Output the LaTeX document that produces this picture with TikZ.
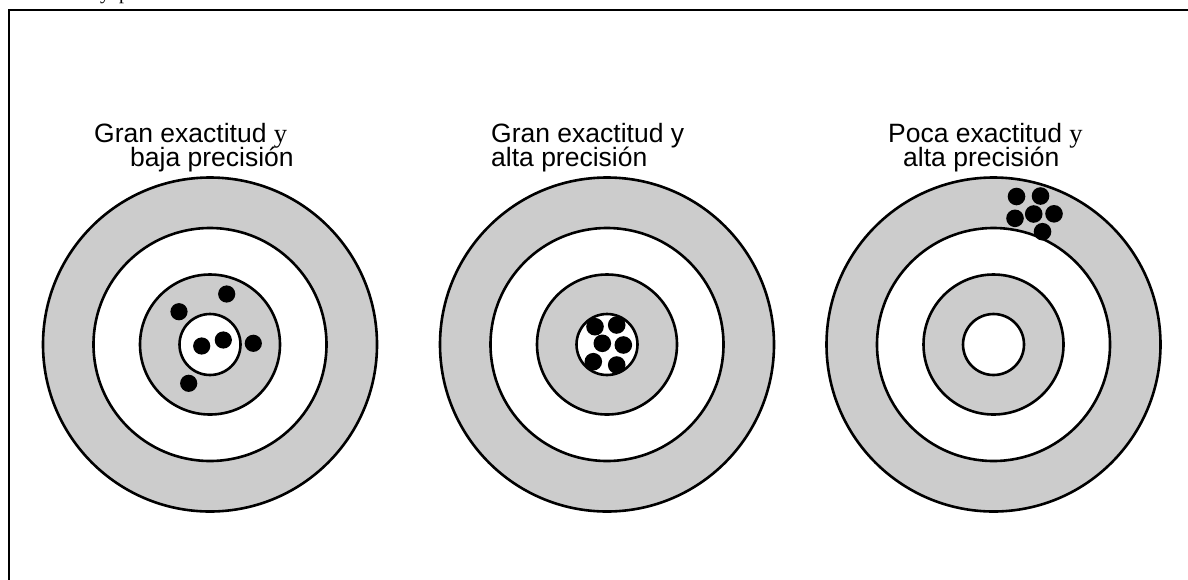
\documentclass[tikz,border=0pt]{standalone}
\usepackage{fontspec}
\setmainfont{Liberation Sans}
\newfontfamily\seriffam{Liberation Serif}
\definecolor{ringgray}{RGB}{204,204,204}
\begin{document}
\begin{tikzpicture}[x=1pt,y=-1pt,
  ring/.style={line width=2.6pt},
  shot/.style={fill=black},
  title/.style={anchor=base west, inner sep=0pt, font=\fontsize{26.5}{30}\selectfont}]
\useasboundingbox (0,0) rectangle (1188,579);
\clip (0,0) rectangle (1188,579);
% frame
\coordinate (fbl) at (9,580);
\coordinate (ftl) at (9,10);
\coordinate (ftr) at (1190,10);
\draw[line width=2.2pt] (fbl) -- (ftl) -- (ftr);
% cut text at the top
\node[anchor=base west, inner sep=0pt, font=\seriffam\fontsize{20}{22}\selectfont] (cut) at (100,-1) {y\hspace{9pt}p};
% targets
\foreach \cx/\nm in {210/a, 607/b, 993.5/c}{
  \filldraw[ring, fill=ringgray] (\cx,344.5) circle (167);
  \filldraw[ring, fill=white] (\cx,344.5) circle (116.5);
  \filldraw[ring, fill=ringgray] (\cx,344.5) circle (70);
  \filldraw[ring, fill=white] (\cx,344.5) circle (30.5);
}
% shots target 1
\foreach \p in {(226.7,294),(179,311.7),(201.7,346),(223.3,340),(253.3,343.3),(188.7,383.3)}
  \fill[shot] \p circle (8.6);
% shots target 2
\foreach \p in {(595,326.7),(616.7,325),(602.3,343.3),(623.3,345),(593.3,361.7),(616.7,365)}
  \fill[shot] \p circle (8.8);
% shots target 3
\foreach \p in {(1016.5,196.5),(1040.5,196),(1015,218.3),(1033.7,214),(1054,213.8),(1042.5,231.7)}
  \fill[shot] \p circle (8.8);
% titles
\node[title] (t1a) at (94,142) {Gran exactitud {\seriffam y}};
\node[title] (t1b) at (130,166.5) {baja precisión};
\node[title] (t2a) at (491,142) {Gran exactitud y};
\node[title] (t2b) at (491,166.5) {alta precisión};
\node[title] (t3a) at (888,142) {Poca exactitud {\seriffam y}};
\node[title] (t3b) at (903,166.5) {alta precisión};
\end{tikzpicture}
\end{document}
